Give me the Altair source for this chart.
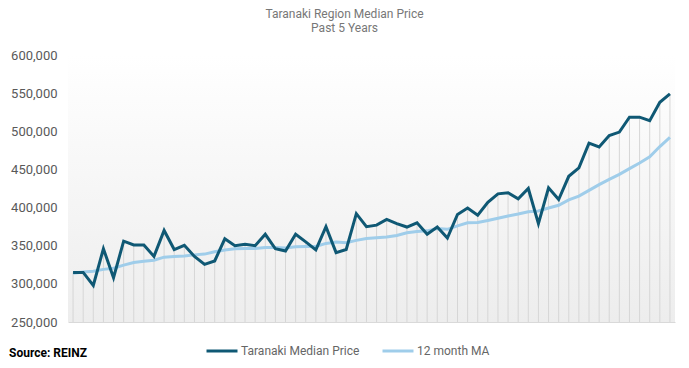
import altair as alt
import pandas as pd

months = list(range(60))

median_price = [
    315000, 315000, 298000, 346000, 308000, 356000, 351000, 351000, 336000, 370000,
    345000, 350500, 336000, 325500, 330000,
    359000, 350000, 352000, 350000, 365000, 346000, 343000, 365000, 355000, 344500,
    375000, 341000, 345000, 392000, 375000,
    377000, 384500, 379000, 374500, 380000, 365000, 374500, 360000, 391000, 399500,
    390000, 407000, 418000, 419500, 411500,
    425000, 379000, 426000, 410500, 441000, 452000, 484500, 479500, 494500, 499000,
    518500, 518500, 514000, 538000, 549000,
]

ma_12 = [
    314000, 315500, 316500, 319000, 320500, 324500, 328000, 329500, 331000, 335000,
    336000, 336500, 338000, 339000, 342000,
    344500, 346000, 346500, 346500, 347500, 347500, 347000, 348500, 349000, 349000,
    353000, 355000, 354000, 357000, 359500,
    360500, 361500, 363500, 367000, 368500, 369500, 372500, 371500, 376000, 380000,
    380500, 383000, 386000, 389000, 391500,
    394500, 395500, 399500, 403000, 410000, 415000, 422500, 430000, 437000, 443500,
    451000, 458500, 466500, 480000, 492000,
]

series_names = ["Taranaki Median Price", "12 month MA"]
series_colors = ["#0f5874", "#9fcdea"]
y_ticks = [250000, 300000, 350000, 400000, 450000, 500000, 550000, 600000]

W, H = 607, 267

wide = pd.DataFrame({"month": months, "median": median_price, "ma": ma_12})
long = pd.concat([
    pd.DataFrame({"month": months, "value": median_price, "series": series_names[0]}),
    pd.DataFrame({"month": months, "value": ma_12, "series": series_names[1]}),
])

x_enc = alt.X("month:Q", scale=alt.Scale(domain=[-0.5, 59.5], nice=False, zero=False),
              axis=alt.Axis(labels=False, ticks=False, grid=False, title=None,
                            domainColor="#d9d9d9", domainWidth=1))
y_scale = alt.Scale(domain=[250000, 600000], nice=False, zero=False)
y_axis = alt.Axis(values=y_ticks, format=",d", grid=False, ticks=False, domain=False,
                  title=None, labelFontSize=13, labelColor="#595959", labelPadding=11,
                  labelFont="Roboto")

bg = alt.Chart(alt.Data(values=[{"a": 1}])).mark_rect(
    fill=alt.Gradient(gradient="linear", x1=0, x2=0, y1=0, y2=1,
                      stops=[alt.GradientStop(offset=0, color="#ffffff"),
                             alt.GradientStop(offset=1, color="#ededed")])
).encode(x=alt.value(0), x2=alt.value(W), y=alt.value(0), y2=alt.value(H))

drops = alt.Chart(wide).mark_rule(color="#d6d6d6", strokeWidth=1).encode(
    x=x_enc,
    y=alt.Y("median:Q", scale=y_scale, axis=y_axis),
    y2=alt.datum(250000),
)

color_enc = alt.Color("series:N", scale=alt.Scale(domain=series_names, range=series_colors),
                      legend=alt.Legend(title=None, orient="none", direction="horizontal",
                                        legendX=137, legendY=279, symbolType="stroke",
                                        symbolSize=961, symbolStrokeWidth=3,
                                        labelFontSize=12, labelColor="#666666",
                                        labelFont="Roboto", labelOffset=2,
                                        columnPadding=16, padding=0))

ma_line = alt.Chart(long).transform_filter(
    alt.datum.series == series_names[1]
).mark_line(strokeWidth=3).encode(
    x=x_enc, y=alt.Y("value:Q", scale=y_scale, axis=y_axis), color=color_enc
)

med_line = alt.Chart(long).transform_filter(
    alt.datum.series == series_names[0]
).mark_line(strokeWidth=3).encode(
    x=x_enc, y=alt.Y("value:Q", scale=y_scale, axis=y_axis), color=color_enc
)

source = alt.Chart(alt.Data(values=[{"t": "Source: REINZ"}])).mark_text(
    align="left", baseline="middle", fontSize=12, fontWeight="bold",
    color="#000000", font="Roboto"
).encode(text="t:N", x=alt.value(-59), y=alt.value(298))

chart = alt.layer(bg, drops, ma_line, med_line, source).properties(
    width=W, height=H,
    title=alt.TitleParams(["Taranaki Region Median Price", "Past 5 Years"],
                          fontSize=12, fontWeight="normal", color="#777777",
                          font="Roboto", anchor="middle", frame="group", dx=-27,
                          offset=14, lineHeight=14),
    autosize=alt.AutoSizeParams(type="none"),
    padding={"left": 60, "top": 47, "right": 6, "bottom": 44},
).configure_view(stroke=None)

chart.save("out.html", embed_options={"renderer": "svg", "actions": False})
